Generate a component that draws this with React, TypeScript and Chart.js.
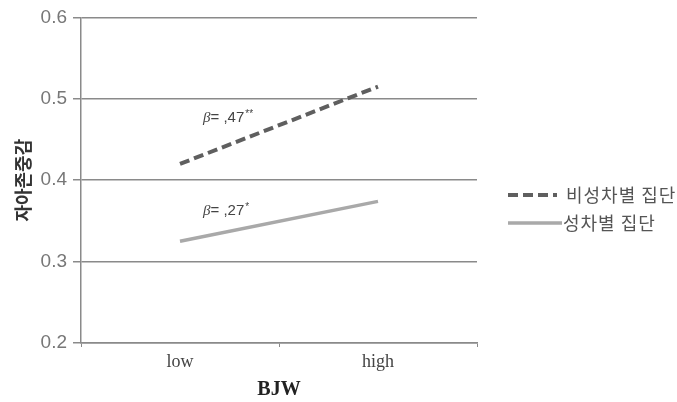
import React, { useEffect, useRef } from "react";
import { Chart, registerables } from "chart.js";

Chart.register(...registerables);

const categories = ["low", "high"];
const seriesNames = ["비성차별 집단", "성차별 집단"];
const nonSexismValues = [0.42, 0.515];
const sexismValues = [0.325, 0.374];
const yTicks = [0.2, 0.3, 0.4, 0.5, 0.6];
const annotations = ["β= ,47**", "β= ,27*"];
const annotationValues = [0.476, 0.362];
const xTitle = "BJW";
const yTitle = "자아존중감";

const DARK = "#5f5f5f";
const LIGHT = "#a9a9a9";

const overlayPlugin = {
  id: "overlay",
  afterDraw(chart: any) {
    const { ctx, scales } = chart;
    const x0 = scales.x.getPixelForValue(0);
    ctx.save();
    // annotations
    ctx.fillStyle = "#444";
    ctx.textBaseline = "middle";
    ctx.textAlign = "left";
    annotations.forEach((t, i) => {
      const y = scales.y.getPixelForValue(annotationValues[i]);
      const x = x0 + 23;
      ctx.font = "italic 15px 'Liberation Serif'";
      ctx.fillText(t.slice(0, 1), x, y);
      const w = ctx.measureText(t.slice(0, 1)).width;
      ctx.font = "15px 'Liberation Sans'";
      const rest = t.slice(1).replace(/\*+$/, "");
      ctx.fillText(rest, x + w, y);
      const w2 = ctx.measureText(rest).width;
      const stars = t.slice(1).slice(rest.length);
      ctx.font = "10px 'Liberation Sans'";
      ctx.fillText(stars, x + w + w2 + 1, y - 4);
    });
    // legend
    const lx = 508;
    const rows = [195, 223];
    ctx.font = "18px 'Noto Sans CJK KR'";
    try {
      (ctx as any).letterSpacing = "1px";
    } catch (e) {}
    ctx.textBaseline = "middle";
    seriesNames.forEach((name, i) => {
      const y = rows[i];
      ctx.beginPath();
      ctx.lineWidth = i === 0 ? 4 : 3.5;
      ctx.strokeStyle = i === 0 ? DARK : LIGHT;
      ctx.setLineDash(i === 0 ? [10, 5] : []);
      ctx.moveTo(lx, y);
      ctx.lineTo(i === 0 ? 557 : 562, y);
      ctx.stroke();
      ctx.setLineDash([]);
      ctx.fillStyle = "#555";
      ctx.fillText(name, i === 0 ? 566 : 563, y);
    });
    ctx.restore();
  },
};

export default function App() {
  const ref = useRef<HTMLCanvasElement | null>(null);
  useEffect(() => {
    if (!ref.current) return;
    const chart = new Chart(ref.current, {
      type: "line",
      data: {
        labels: categories,
        datasets: [
          {
            label: seriesNames[0],
            data: nonSexismValues,
            borderColor: DARK,
            borderWidth: 4,
            borderDash: [10, 5],
            pointRadius: 0,
            fill: false,
          },
          {
            label: seriesNames[1],
            data: sexismValues,
            borderColor: LIGHT,
            borderWidth: 3.5,
            pointRadius: 0,
            fill: false,
          },
        ],
      },
      options: {
        animation: false,
        responsive: true,
        maintainAspectRatio: false,
        layout: { padding: { top: 15, right: 200, left: 0, bottom: 0 } },
        plugins: { legend: { display: false }, tooltip: { enabled: false } },
        scales: {
          x: {
            offset: true,
            grid: {
              offset: true,
              drawOnChartArea: false,
              tickLength: 4,
              color: "#8a8a8a",
            },
            border: { color: "#8a8a8a", width: 1.5 },
            ticks: {
              color: "#444",
              font: { family: "'Liberation Serif'", size: 18 },
              padding: 4,
            },
            title: {
              display: true,
              text: xTitle,
              color: "#222",
              font: { family: "'Liberation Serif'", size: 20, weight: "bold" },
              padding: { top: 0, bottom: 0 },
            },
            afterFit: (s: any) => {
              s.height = 59;
            },
          },
          y: {
            min: 0.2,
            max: 0.6,
            afterBuildTicks: (s: any) => {
              s.ticks = yTicks.map((v) => ({ value: v }));
            },
            grid: { color: "#8a8a8a", tickLength: 8, lineWidth: 1.5 },
            border: { color: "#8a8a8a", width: 1.5 },
            ticks: {
              color: "#777",
              font: { family: "'Liberation Sans'", size: 19 },
              padding: 6,
              callback: (v: any) => Number(v).toFixed(1),
            },
            title: {
              display: true,
              text: yTitle,
              color: "#333",
              font: { family: "'Noto Sans CJK KR'", size: 18, weight: "bold" },
              padding: { top: 12, bottom: 0 },
            },
            afterFit: (s: any) => {
              s.width = 81;
            },
          },
        },
      },
      plugins: [overlayPlugin],
    });
    return () => chart.destroy();
  }, []);
  return (
    <div style={{ position: "absolute", left: 0, top: 0, width: 677, height: 402, background: "#fff" }}>
      <canvas ref={ref} />
    </div>
  );
}
